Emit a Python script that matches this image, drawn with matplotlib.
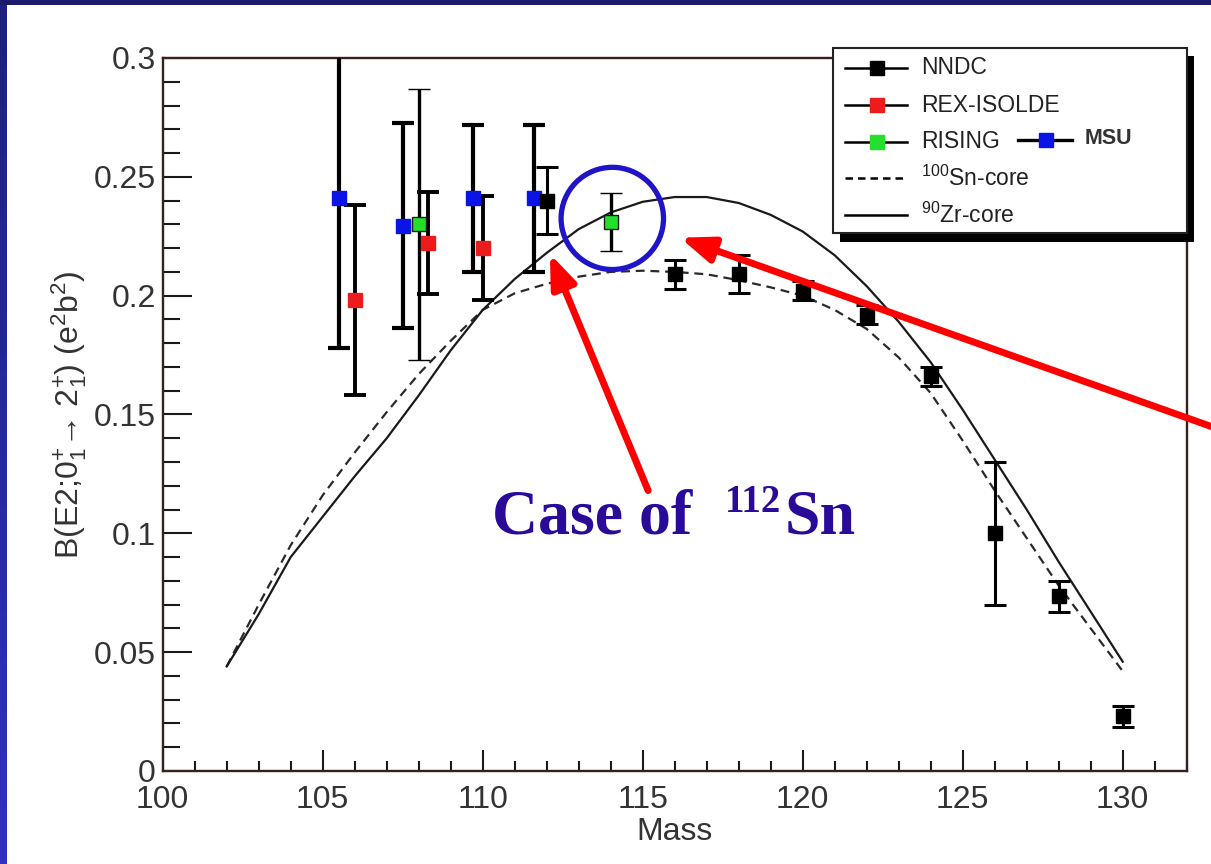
import numpy as np
import matplotlib.pyplot as plt
from matplotlib.patches import Ellipse, Rectangle, FancyArrowPatch
from matplotlib.lines import Line2D
from matplotlib.ticker import MultipleLocator, FuncFormatter
from matplotlib.colors import LinearSegmentedColormap

plt.rcParams['font.family'] = ['Liberation Sans', 'DejaVu Sans']
plt.rcParams['mathtext.fontset'] = 'custom'
plt.rcParams['mathtext.rm'] = 'Liberation Sans'
plt.rcParams['mathtext.it'] = 'Liberation Sans:italic'
plt.rcParams['mathtext.bf'] = 'Liberation Sans:bold'

# measured B(E2) values
nndc_mass = [112, 116, 118, 120, 122, 124, 126, 128, 130]
nndc_be2 = [0.240, 0.209, 0.209, 0.202, 0.192, 0.166, 0.100, 0.0735, 0.023]
nndc_err = [0.014, 0.006, 0.008, 0.004, 0.004, 0.004, 0.030, 0.0065, 0.0045]

rex_mass = [106, 108.3, 110]
rex_be2 = [0.198, 0.222, 0.220]
rex_err = [0.040, 0.0215, 0.022]

rising_mass = [108, 114]
rising_be2 = [0.230, 0.231]
rising_err = [0.057, 0.012]

msu_mass = [105.5, 107.5, 109.7, 111.6]
msu_be2 = [0.241, 0.2295, 0.241, 0.241]
msu_err = [0.063, 0.043, 0.031, 0.031]

# shell-model curves
calc_mass = [102, 103, 104, 105, 106, 107, 108, 109, 110, 111, 112, 113, 114, 115, 116,
             117, 118, 119, 120, 121, 122, 123, 124, 125, 126, 127, 128, 129, 130]
zr_core = [0.044, 0.066, 0.090, 0.107, 0.124, 0.140, 0.158, 0.177, 0.194, 0.207, 0.218,
           0.228, 0.235, 0.2395, 0.2415, 0.2415, 0.239, 0.234, 0.227, 0.217, 0.204,
           0.189, 0.172, 0.152, 0.131, 0.110, 0.088, 0.067, 0.046]
sn_core = [0.044, 0.070, 0.095, 0.116, 0.134, 0.151, 0.167, 0.181, 0.194, 0.201, 0.205,
           0.208, 0.210, 0.2105, 0.210, 0.209, 0.2065, 0.2035, 0.200, 0.194, 0.186,
           0.174, 0.159, 0.139, 0.118, 0.098, 0.078, 0.060, 0.042]

W, H = 1211, 864
fig = plt.figure(figsize=(W / 100, H / 100), dpi=100)
fig.patch.set_facecolor('white')


def fx(x):
    return x / W


def fy(y):
    return 1 - y / H


ax = fig.add_axes([162.7 / W, 93 / H, 1024 / W, 713 / H])

ax.plot(calc_mass, sn_core, color='#2a2a2a', lw=1.6, dashes=(4, 2.6), zorder=2)
ax.plot(calc_mass, zr_core, color='#1a1a1a', lw=1.6, zorder=2)

eb = dict(fmt='s', ecolor='black', capsize=8, ms=9.5, zorder=4)
ax.errorbar(msu_mass, msu_be2, yerr=msu_err, color='#0a14e6', mec='#0a14e6',
            elinewidth=3.0, capthick=3.0, **eb)
ax.errorbar(rex_mass, rex_be2, yerr=rex_err, color='#ec1c1c', mec='#ec1c1c',
            elinewidth=2.8, capthick=2.8, **eb)
ax.errorbar(nndc_mass, nndc_be2, yerr=nndc_err, color='black', mec='black',
            elinewidth=2.2, capthick=2.2, **eb)
ax.errorbar(rising_mass, rising_be2, yerr=rising_err, color='#22e02c', mec='#1a1a1a',
            mew=1.0, elinewidth=2.4, capthick=2.8, **eb)

ax.set_xlim(100, 132)
ax.set_ylim(0, 0.3)
ax.xaxis.set_major_locator(MultipleLocator(5))
ax.xaxis.set_minor_locator(MultipleLocator(1))
ax.yaxis.set_major_locator(MultipleLocator(0.05))
ax.yaxis.set_minor_locator(MultipleLocator(0.01))
ax.yaxis.set_major_formatter(FuncFormatter(lambda v, p: f'{v:g}'))
ax.tick_params(axis='both', which='both', direction='in', top=False, right=False,
               width=1.5, color='#1a1a1a', labelcolor='#333333', labelsize=23)
ax.tick_params(axis='x', which='major', length=15, pad=10)
ax.tick_params(axis='x', which='minor', length=7)
ax.tick_params(axis='y', which='major', length=21, pad=5)
ax.tick_params(axis='y', which='minor', length=12)
for s in ax.spines.values():
    s.set_color('#3a1f1f')
    s.set_linewidth(1.7)

ax.set_xlabel('Mass', fontsize=23, color='#333333')
ax.xaxis.set_label_coords(0.5, -0.064)
ax.set_ylabel('B(E2;0$_{1}^{+}$\u2192 2$_{1}^{+}$) (e$^{2}$b$^{2}$)',
              fontsize=23, color='#333333')
ax.yaxis.set_label_coords(-0.072, 0.5)

# highlight around the 112Sn RISING point
ax.add_patch(Ellipse((114.05, 0.2325), 3.2, 0.043, fill=False, ec='#1f14c8', lw=3.8,
                     zorder=5))

for tail, head in [((115.17, 0.118), (112.1, 0.2176)),
                   ((133.8, 0.140), (116.17, 0.2244))]:
    ax.add_patch(FancyArrowPatch(tail, head, arrowstyle='-|>,head_length=0.9,head_width=0.35',
                                 mutation_scale=22, color='#ff0000', lw=5,
                                 shrinkA=0, shrinkB=0, clip_on=False, zorder=6))

serif = dict(family='Liberation Serif', weight='bold', color='#2a0a99', va='baseline')
ax.text(110.3, 0.100, 'Case of', fontsize=46, **serif)
ax.text(117.58, 0.1088, '112', fontsize=28, **serif)
ax.text(119.45, 0.100, 'Sn', fontsize=46, **serif)

# legend box with drop shadow
fig.add_artist(Rectangle((fx(840), fy(242)), (1194 - 840) / W, (242 - 56) / H,
                         transform=fig.transFigure, facecolor='black', edgecolor='none'))
fig.add_artist(Rectangle((fx(833), fy(233)), (1187 - 833) / W, (233 - 48) / H,
                         transform=fig.transFigure, facecolor='white', edgecolor='#222222',
                         lw=1.5))

entries = [(68, 'NNDC', 'black', '-'), (105, 'REX-ISOLDE', '#ec1c1c', '-'),
           (142, 'RISING', '#22e02c', '-'),
           (178, r'$^{100}$Sn-core', None, '--'), (215, r'$^{90}$Zr-core', None, '-')]
for y, label, c, ls in entries:
    fig.add_artist(Line2D([fx(845), fx(907)], [fy(y), fy(y)], transform=fig.transFigure,
                          color='black', lw=1.8, ls=ls, dashes=(3, 2) if ls == '--' else (None, None)))
    if c is not None:
        fig.add_artist(Line2D([fx(877)], [fy(y)], transform=fig.transFigure, marker='s',
                              ms=9.5, color=c, mec=c))
    fig.text(fx(921), fy(y), label, fontsize=16.5, color='#222222', va='center')

fig.add_artist(Line2D([fx(1018), fx(1072)], [fy(140), fy(140)], transform=fig.transFigure,
                      color='black', lw=2.4))
fig.add_artist(Line2D([fx(1046)], [fy(140)], transform=fig.transFigure, marker='s', ms=9.5,
                      color='#0a14e6', mec='#0a14e6'))
fig.text(fx(1085), fy(139), 'MSU', fontsize=15.5, fontweight='bold', color='#333333',
         va='center')

# slide background showing at the top and left edges
fig.add_artist(Rectangle((0, fy(5)), 1, 5 / H, transform=fig.transFigure,
                         facecolor='#1b1b6c', edgecolor='none'))
edge = fig.add_axes([0, 0, 7 / W, 1 - 5 / H])
edge.imshow(np.linspace(0, 1, 256).reshape(-1, 1), aspect='auto',
            cmap=LinearSegmentedColormap.from_list('edge', ['#1f1f80', '#3030c4']))
edge.axis('off')

fig.savefig('out.png', dpi=100)
